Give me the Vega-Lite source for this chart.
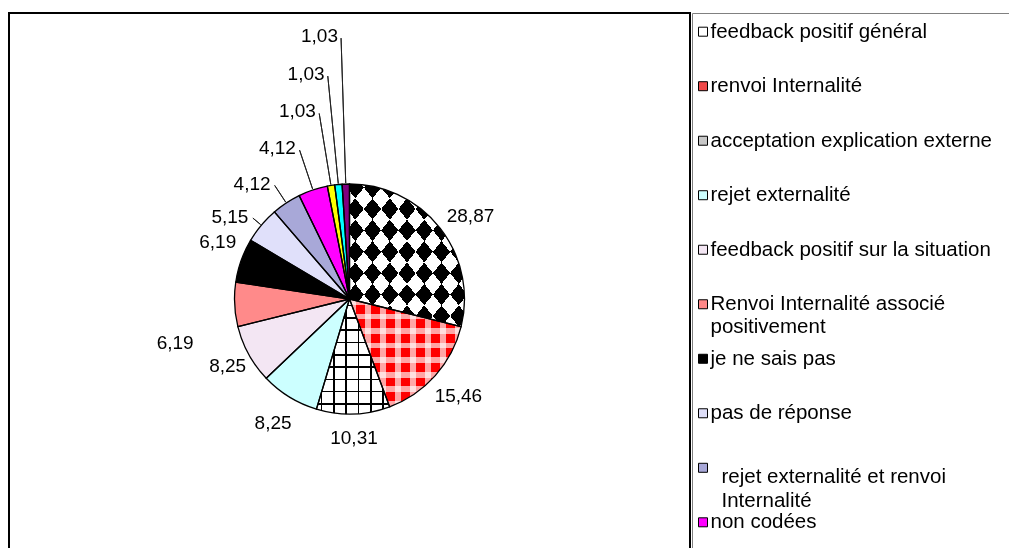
{
  "$schema": "https://vega.github.io/schema/vega-lite/v6.json",
  "usermeta": {"embedOptions": {"actions": false}},
  "padding": {"left": 8, "top": 12, "right": 0, "bottom": 0},
  "background": "white",
  "spacing": 0,
  "config": {
    "font": "Liberation Sans",
    "locale": {"number": {"decimal": ",", "thousands": " ", "grouping": [3], "currency": ["", " €"]}},
    "concat": {"spacing": 0}
  },
  "data": {"values": [
    {"order": 1, "name": "feedback positif général", "label": "feedback positif général", "value": 28.87},
    {"order": 2, "name": "renvoi Internalité", "label": "renvoi Internalité", "value": 15.46},
    {"order": 3, "name": "acceptation explication externe", "label": "acceptation explication externe", "value": 10.31},
    {"order": 4, "name": "rejet externalité", "label": "rejet externalité", "value": 8.25},
    {"order": 5, "name": "feedback positif sur la situation", "label": "feedback positif sur la situation", "value": 8.25},
    {"order": 6, "name": "Renvoi Internalité associé positivement", "label": "Renvoi Internalité associé\npositivement", "value": 6.19},
    {"order": 7, "name": "je ne sais pas", "label": "je ne sais pas", "value": 6.19},
    {"order": 8, "name": "pas de réponse", "label": "pas de réponse", "value": 5.15},
    {"order": 9, "name": "rejet externalité et renvoi Internalité", "label": "rejet externalité et renvoi\nInternalité", "value": 4.12},
    {"order": 10, "name": "non codées", "label": "non codées", "value": 4.12},
    {"order": 11, "name": "autre 1", "label": "autre 1", "value": 1.03},
    {"order": 12, "name": "autre 2", "label": "autre 2", "value": 1.03},
    {"order": 13, "name": "autre 3", "label": "autre 3", "value": 1.03}
  ]},
  "hconcat": [
    {
      "width": 681,
      "height": 572,
      "view": {"stroke": "black", "strokeWidth": 2},
      "encoding": {
        "theta": {"field": "value", "type": "quantitative", "stack": true, "scale": {"domain": [0, 100]}},
        "order": {"field": "order", "type": "quantitative"}
      },
      "layer": [
        {
          "mark": {"type": "arc", "outerRadius": 115, "strokeWidth": 0},
          "encoding": {
            "color": {
              "field": "name", "type": "nominal", "legend": null,
              "scale": {
                "domain": ["feedback positif général", "renvoi Internalité", "acceptation explication externe", "rejet externalité", "feedback positif sur la situation", "Renvoi Internalité associé positivement", "je ne sais pas", "pas de réponse", "rejet externalité et renvoi Internalité", "non codées", "autre 1", "autre 2", "autre 3"],
                "range": ["#ffffff", "#ff0000", "#ffffff", "#ccffff", "#f3e6f3", "#ff8a8a", "#000000", "#e0e0fa", "#a8a8d8", "#ff00ff", "#ffff00", "#00ffff", "#800080"]
              }
            }
          }
        },
        {
          "mark": {"type": "arc", "outerRadius": 115, "strokeWidth": 0},
          "encoding": {
            "fill": {
              "condition": [
                {"test": "datum.order == 1", "value": {"gradient": "linear", "x1": 0, "y1": 0, "x2": 1, "y2": 1, "stops": [
                  {"offset": 0, "color": "black"}, {"offset": 0.075, "color": "black"}, {"offset": 0.075, "color": "transparent"}, {"offset": 0.15, "color": "transparent"},
                  {"offset": 0.15, "color": "black"}, {"offset": 0.225, "color": "black"}, {"offset": 0.225, "color": "transparent"}, {"offset": 0.3, "color": "transparent"},
                  {"offset": 0.3, "color": "black"}, {"offset": 0.375, "color": "black"}, {"offset": 0.375, "color": "transparent"}, {"offset": 0.45, "color": "transparent"},
                  {"offset": 0.45, "color": "black"}, {"offset": 0.525, "color": "black"}, {"offset": 0.525, "color": "transparent"}, {"offset": 0.6, "color": "transparent"},
                  {"offset": 0.6, "color": "black"}, {"offset": 0.675, "color": "black"}, {"offset": 0.675, "color": "transparent"}, {"offset": 0.75, "color": "transparent"},
                  {"offset": 0.75, "color": "black"}, {"offset": 0.825, "color": "black"}, {"offset": 0.825, "color": "transparent"}, {"offset": 0.9, "color": "transparent"},
                  {"offset": 0.9, "color": "black"}, {"offset": 0.975, "color": "black"}, {"offset": 0.975, "color": "transparent"}, {"offset": 1, "color": "transparent"}
                ]}},
                {"test": "datum.order == 2", "value": {"gradient": "linear", "x1": 0, "y1": 0, "x2": 1, "y2": 0, "stops": [
                  {"offset": 0, "color": "rgba(255,255,255,0.65)"}, {"offset": 0.054, "color": "rgba(255,255,255,0.65)"}, {"offset": 0.054, "color": "transparent"}, {"offset": 0.135, "color": "transparent"},
                  {"offset": 0.135, "color": "rgba(255,255,255,0.65)"}, {"offset": 0.189, "color": "rgba(255,255,255,0.65)"}, {"offset": 0.189, "color": "transparent"}, {"offset": 0.27, "color": "transparent"},
                  {"offset": 0.27, "color": "rgba(255,255,255,0.65)"}, {"offset": 0.324, "color": "rgba(255,255,255,0.65)"}, {"offset": 0.324, "color": "transparent"}, {"offset": 0.405, "color": "transparent"},
                  {"offset": 0.405, "color": "rgba(255,255,255,0.65)"}, {"offset": 0.459, "color": "rgba(255,255,255,0.65)"}, {"offset": 0.459, "color": "transparent"}, {"offset": 0.54, "color": "transparent"},
                  {"offset": 0.54, "color": "rgba(255,255,255,0.65)"}, {"offset": 0.594, "color": "rgba(255,255,255,0.65)"}, {"offset": 0.594, "color": "transparent"}, {"offset": 0.675, "color": "transparent"},
                  {"offset": 0.675, "color": "rgba(255,255,255,0.65)"}, {"offset": 0.729, "color": "rgba(255,255,255,0.65)"}, {"offset": 0.729, "color": "transparent"}, {"offset": 0.81, "color": "transparent"},
                  {"offset": 0.81, "color": "rgba(255,255,255,0.65)"}, {"offset": 0.864, "color": "rgba(255,255,255,0.65)"}, {"offset": 0.864, "color": "transparent"}, {"offset": 0.945, "color": "transparent"},
                  {"offset": 0.945, "color": "rgba(255,255,255,0.65)"}, {"offset": 0.999, "color": "rgba(255,255,255,0.65)"}, {"offset": 0.999, "color": "transparent"}, {"offset": 1, "color": "transparent"}
                ]}},
                {"test": "datum.order == 3", "value": {"gradient": "linear", "x1": 0, "y1": 0, "x2": 1, "y2": 0, "stops": [
                  {"offset": 0, "color": "transparent"}, {"offset": 0.06, "color": "transparent"}, {"offset": 0.06, "color": "black"}, {"offset": 0.082, "color": "black"}, {"offset": 0.082, "color": "transparent"},
                  {"offset": 0.228, "color": "transparent"}, {"offset": 0.228, "color": "black"}, {"offset": 0.25, "color": "black"}, {"offset": 0.25, "color": "transparent"},
                  {"offset": 0.396, "color": "transparent"}, {"offset": 0.396, "color": "black"}, {"offset": 0.418, "color": "black"}, {"offset": 0.418, "color": "transparent"},
                  {"offset": 0.564, "color": "transparent"}, {"offset": 0.564, "color": "black"}, {"offset": 0.586, "color": "black"}, {"offset": 0.586, "color": "transparent"},
                  {"offset": 0.732, "color": "transparent"}, {"offset": 0.732, "color": "black"}, {"offset": 0.754, "color": "black"}, {"offset": 0.754, "color": "transparent"},
                  {"offset": 0.9, "color": "transparent"}, {"offset": 0.9, "color": "black"}, {"offset": 0.922, "color": "black"}, {"offset": 0.922, "color": "transparent"}, {"offset": 1, "color": "transparent"}
                ]}}
              ],
              "value": "transparent"
            }
          }
        },
        {
          "mark": {"type": "arc", "outerRadius": 115, "strokeWidth": 0},
          "encoding": {
            "fill": {
              "condition": [
                {"test": "datum.order == 2", "value": {"gradient": "linear", "x1": 0, "y1": 0, "x2": 0, "y2": 1, "stops": [
                  {"offset": 0, "color": "rgba(255,255,255,0.65)"}, {"offset": 0.054, "color": "rgba(255,255,255,0.65)"}, {"offset": 0.054, "color": "transparent"}, {"offset": 0.135, "color": "transparent"},
                  {"offset": 0.135, "color": "rgba(255,255,255,0.65)"}, {"offset": 0.189, "color": "rgba(255,255,255,0.65)"}, {"offset": 0.189, "color": "transparent"}, {"offset": 0.27, "color": "transparent"},
                  {"offset": 0.27, "color": "rgba(255,255,255,0.65)"}, {"offset": 0.324, "color": "rgba(255,255,255,0.65)"}, {"offset": 0.324, "color": "transparent"}, {"offset": 0.405, "color": "transparent"},
                  {"offset": 0.405, "color": "rgba(255,255,255,0.65)"}, {"offset": 0.459, "color": "rgba(255,255,255,0.65)"}, {"offset": 0.459, "color": "transparent"}, {"offset": 0.54, "color": "transparent"},
                  {"offset": 0.54, "color": "rgba(255,255,255,0.65)"}, {"offset": 0.594, "color": "rgba(255,255,255,0.65)"}, {"offset": 0.594, "color": "transparent"}, {"offset": 0.675, "color": "transparent"},
                  {"offset": 0.675, "color": "rgba(255,255,255,0.65)"}, {"offset": 0.729, "color": "rgba(255,255,255,0.65)"}, {"offset": 0.729, "color": "transparent"}, {"offset": 0.81, "color": "transparent"},
                  {"offset": 0.81, "color": "rgba(255,255,255,0.65)"}, {"offset": 0.864, "color": "rgba(255,255,255,0.65)"}, {"offset": 0.864, "color": "transparent"}, {"offset": 0.945, "color": "transparent"},
                  {"offset": 0.945, "color": "rgba(255,255,255,0.65)"}, {"offset": 0.999, "color": "rgba(255,255,255,0.65)"}, {"offset": 0.999, "color": "transparent"}, {"offset": 1, "color": "transparent"}
                ]}},
                {"test": "datum.order == 3", "value": {"gradient": "linear", "x1": 0, "y1": 0, "x2": 0, "y2": 1, "stops": [
                  {"offset": 0, "color": "transparent"}, {"offset": 0.05, "color": "transparent"}, {"offset": 0.05, "color": "black"}, {"offset": 0.064, "color": "black"}, {"offset": 0.064, "color": "transparent"},
                  {"offset": 0.157, "color": "transparent"}, {"offset": 0.157, "color": "black"}, {"offset": 0.171, "color": "black"}, {"offset": 0.171, "color": "transparent"},
                  {"offset": 0.264, "color": "transparent"}, {"offset": 0.264, "color": "black"}, {"offset": 0.278, "color": "black"}, {"offset": 0.278, "color": "transparent"},
                  {"offset": 0.371, "color": "transparent"}, {"offset": 0.371, "color": "black"}, {"offset": 0.385, "color": "black"}, {"offset": 0.385, "color": "transparent"},
                  {"offset": 0.478, "color": "transparent"}, {"offset": 0.478, "color": "black"}, {"offset": 0.492, "color": "black"}, {"offset": 0.492, "color": "transparent"},
                  {"offset": 0.585, "color": "transparent"}, {"offset": 0.585, "color": "black"}, {"offset": 0.599, "color": "black"}, {"offset": 0.599, "color": "transparent"},
                  {"offset": 0.692, "color": "transparent"}, {"offset": 0.692, "color": "black"}, {"offset": 0.706, "color": "black"}, {"offset": 0.706, "color": "transparent"},
                  {"offset": 0.799, "color": "transparent"}, {"offset": 0.799, "color": "black"}, {"offset": 0.813, "color": "black"}, {"offset": 0.813, "color": "transparent"},
                  {"offset": 0.906, "color": "transparent"}, {"offset": 0.906, "color": "black"}, {"offset": 0.92, "color": "black"}, {"offset": 0.92, "color": "transparent"}, {"offset": 1, "color": "transparent"}
                ]}}
              ],
              "value": "transparent"
            }
          }
        },
        {
          "mark": {"type": "arc", "outerRadius": 115, "strokeWidth": 0, "blend": "difference"},
          "encoding": {
            "fill": {
              "condition": {"test": "datum.order == 1", "value": {"gradient": "linear", "x1": 1, "y1": 0, "x2": 0, "y2": 1, "stops": [
                  {"offset": 0, "color": "black"}, {"offset": 0.075, "color": "black"}, {"offset": 0.075, "color": "white"}, {"offset": 0.15, "color": "white"},
                  {"offset": 0.15, "color": "black"}, {"offset": 0.225, "color": "black"}, {"offset": 0.225, "color": "white"}, {"offset": 0.3, "color": "white"},
                  {"offset": 0.3, "color": "black"}, {"offset": 0.375, "color": "black"}, {"offset": 0.375, "color": "white"}, {"offset": 0.45, "color": "white"},
                  {"offset": 0.45, "color": "black"}, {"offset": 0.525, "color": "black"}, {"offset": 0.525, "color": "white"}, {"offset": 0.6, "color": "white"},
                  {"offset": 0.6, "color": "black"}, {"offset": 0.675, "color": "black"}, {"offset": 0.675, "color": "white"}, {"offset": 0.75, "color": "white"},
                  {"offset": 0.75, "color": "black"}, {"offset": 0.825, "color": "black"}, {"offset": 0.825, "color": "white"}, {"offset": 0.9, "color": "white"},
                  {"offset": 0.9, "color": "black"}, {"offset": 0.975, "color": "black"}, {"offset": 0.975, "color": "white"}, {"offset": 1, "color": "white"}
              ]}},
              "value": "transparent"
            }
          }
        },
        {
          "mark": {"type": "arc", "outerRadius": 115, "fill": "transparent", "stroke": "black", "strokeWidth": 1.3}
        },
        {
          "mark": {"type": "arc", "innerRadius": 116, "outerRadius": 126, "padAngle": 1, "fill": "transparent", "strokeWidth": 1},
          "encoding": {"stroke": {"condition": {"test": "datum.order == 8", "value": "#222222"}, "value": "transparent"}}
        },
        {
          "mark": {"type": "arc", "innerRadius": 116, "outerRadius": 136, "padAngle": 1, "fill": "transparent", "strokeWidth": 1},
          "encoding": {"stroke": {"condition": {"test": "datum.order == 9", "value": "#222222"}, "value": "transparent"}}
        },
        {
          "mark": {"type": "arc", "innerRadius": 116, "outerRadius": 157, "padAngle": 1, "fill": "transparent", "strokeWidth": 1},
          "encoding": {"stroke": {"condition": {"test": "datum.order == 10", "value": "#222222"}, "value": "transparent"}}
        },
        {
          "mark": {"type": "arc", "innerRadius": 116, "outerRadius": 188, "padAngle": 1, "fill": "transparent", "strokeWidth": 1},
          "encoding": {"stroke": {"condition": {"test": "datum.order == 11", "value": "#222222"}, "value": "transparent"}}
        },
        {
          "mark": {"type": "arc", "innerRadius": 116, "outerRadius": 224, "padAngle": 1, "fill": "transparent", "strokeWidth": 1},
          "encoding": {"stroke": {"condition": {"test": "datum.order == 12", "value": "#222222"}, "value": "transparent"}}
        },
        {
          "mark": {"type": "arc", "innerRadius": 116, "outerRadius": 261, "padAngle": 1, "fill": "transparent", "strokeWidth": 1},
          "encoding": {"stroke": {"condition": {"test": "datum.order == 13", "value": "#222222"}, "value": "transparent"}}
        },
        {
          "mark": {"type": "text", "fontSize": 19, "align": "center", "baseline": "middle", "radius": 146, "dx": 6, "dy": 7},
          "encoding": {"text": {"condition": {"test": "datum.order == 1", "field": "value", "format": ".2f"}, "value": ""}}
        },
        {
          "mark": {"type": "text", "fontSize": 19, "align": "center", "baseline": "middle", "radius": 146},
          "encoding": {"text": {"condition": {"test": "datum.order == 2 || datum.order == 4", "field": "value", "format": ".2f"}, "value": ""}}
        },
        {
          "mark": {"type": "text", "fontSize": 19, "align": "center", "baseline": "middle", "radius": 139},
          "encoding": {"text": {"condition": {"test": "datum.order == 3 || datum.order == 5", "field": "value", "format": ".2f"}, "value": ""}}
        },
        {
          "mark": {"type": "text", "fontSize": 19, "align": "right", "baseline": "middle", "radius": 153, "dx": -3, "dy": 37},
          "encoding": {"text": {"condition": {"test": "datum.order == 6", "field": "value", "format": ".2f"}, "value": ""}}
        },
        {
          "mark": {"type": "text", "fontSize": 19, "align": "right", "baseline": "middle", "radius": 117, "dx": -3, "dy": -18},
          "encoding": {"text": {"condition": {"test": "datum.order == 7", "field": "value", "format": ".2f"}, "value": ""}}
        },
        {
          "mark": {"type": "text", "fontSize": 19, "align": "right", "baseline": "middle", "radius": 128, "dx": -3},
          "encoding": {"text": {"condition": {"test": "datum.order == 8", "field": "value", "format": ".2f"}, "value": ""}}
        },
        {
          "mark": {"type": "text", "fontSize": 19, "align": "right", "baseline": "middle", "radius": 138, "dx": -3},
          "encoding": {"text": {"condition": {"test": "datum.order == 9", "field": "value", "format": ".2f"}, "value": ""}}
        },
        {
          "mark": {"type": "text", "fontSize": 19, "align": "right", "baseline": "middle", "radius": 159, "dx": -3},
          "encoding": {"text": {"condition": {"test": "datum.order == 10", "field": "value", "format": ".2f"}, "value": ""}}
        },
        {
          "mark": {"type": "text", "fontSize": 19, "align": "right", "baseline": "middle", "radius": 190, "dx": -3},
          "encoding": {"text": {"condition": {"test": "datum.order == 11", "field": "value", "format": ".2f"}, "value": ""}}
        },
        {
          "mark": {"type": "text", "fontSize": 19, "align": "right", "baseline": "middle", "radius": 226, "dx": -3},
          "encoding": {"text": {"condition": {"test": "datum.order == 12", "field": "value", "format": ".2f"}, "value": ""}}
        },
        {
          "mark": {"type": "text", "fontSize": 19, "align": "right", "baseline": "middle", "radius": 263, "dx": -3},
          "encoding": {"text": {"condition": {"test": "datum.order == 13", "field": "value", "format": ".2f"}, "value": ""}}
        }
      ]
    },
    {
      "width": 319,
      "height": 572,
      "view": {"stroke": "#808080", "strokeWidth": 1},
      "transform": [{"filter": "datum.order <= 10"}],
      "encoding": {
        "y": {"field": "name", "type": "nominal", "sort": {"field": "order"}, "axis": null, "scale": {"type": "point", "padding": 0, "range": [18.7, 509.3]}}
      },
      "layer": [
        {
          "mark": {"type": "point", "shape": "square", "filled": true, "size": 81, "stroke": "black", "strokeWidth": 1, "opacity": 1},
          "encoding": {
            "x": {"value": 11},
            "fill": {
              "field": "name", "type": "nominal", "legend": null,
              "scale": {
                "domain": ["feedback positif général", "renvoi Internalité", "acceptation explication externe", "rejet externalité", "feedback positif sur la situation", "Renvoi Internalité associé positivement", "je ne sais pas", "pas de réponse", "rejet externalité et renvoi Internalité", "non codées", "autre 1", "autre 2", "autre 3"],
                "range": ["#ffffff", "#f04848", "#c8c8c8", "#ccffff", "#f3e6f3", "#ff8888", "#000000", "#dedef8", "#a8a8d8", "#ff00ff", "#ffff00", "#00ffff", "#800080"]
              }
            }
          }
        },
        {
          "mark": {"type": "text", "fontSize": 20.5, "align": "left", "baseline": "middle", "lineBreak": "\n", "lineHeight": 23},
          "encoding": {
            "x": {"value": 18.5},
            "text": {"condition": {"test": "datum.order != 9", "field": "label"}, "value": ""}
          }
        },
        {
          "mark": {"type": "text", "fontSize": 20.5, "align": "left", "baseline": "middle", "lineBreak": "\n", "lineHeight": 24, "dx": 11, "dy": 9},
          "encoding": {
            "x": {"value": 18.5},
            "text": {"condition": {"test": "datum.order == 9", "field": "label"}, "value": ""}
          }
        }
      ]
    }
  ]
}
